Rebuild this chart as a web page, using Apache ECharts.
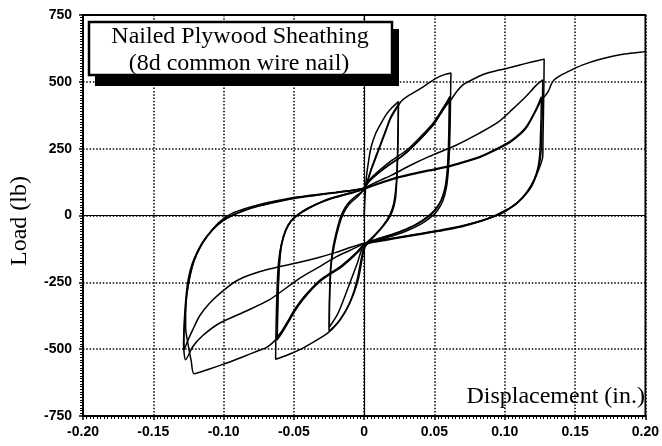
<!DOCTYPE html>
<html>
<head>
<meta charset="utf-8">
<script src="https://cdn.jsdelivr.net/npm/echarts@6/dist/echarts.min.js"></script>
<style>
html, body { margin: 0; padding: 0; background: #fff; }
#main { width: 662px; height: 446px; }
</style>
</head>
<body>
<div id="main"></div>
<script>
// axis ticks
var xTicks = { min: -0.2, max: 0.2, step: 0.05 };
var yTicks = { min: -750, max: 750, step: 250 };

// displacement (in.), load (lb), in test order
// 0.025 in. cycles
var cycle1 = [
  [0,0],[0.0005,60],[0.0015,140],[0.003,200],[0.005,257],[0.008,305],[0.012,345],[0.016,380],[0.020,405],[0.0244,426],
  [0.0242,330],[0.0238,220],[0.0232,130],[0.0222,60],[0.020,15],[0.017,-15],[0.012,-50],[0.006,-85],[0.001,-115],
  [-0.001,-150],[-0.004,-235],[-0.008,-300],[-0.013,-355],[-0.018,-395],[-0.022,-418],[-0.025,-432],
  [-0.0248,-330],[-0.0244,-250],[-0.0238,-190],[-0.022,-115],[-0.019,-45],[-0.016,5],[-0.012,42],[-0.007,68],[-0.002,88],[0,100]
];
var cycle2 = [
  [0,100],[0.002,125],[0.005,175],[0.010,245],[0.015,315],[0.019,370],[0.0243,416],
  [0.0241,320],[0.0236,210],[0.0228,120],[0.021,45],[0.018,0],[0.013,-40],[0.007,-75],[0.002,-100],[0,-110],
  [-0.002,-130],[-0.005,-180],[-0.010,-250],[-0.015,-320],[-0.019,-370],[-0.0248,-418],
  [-0.0246,-320],[-0.0241,-240],[-0.0234,-180],[-0.021,-105],[-0.018,-40],[-0.015,5],[-0.011,40],[-0.006,65],[-0.002,85],[0,96]
];
// 0.06 in. cycles
var cycle3 = [
  [0,96],[0.002,120],[0.005,170],[0.010,240],[0.015,310],[0.019,365],[0.0244,412],[0.0265,428],[0.032,450],[0.0386,470],[0.045,492],[0.051,513],[0.057,527],[0.0617,533],
  [0.0614,430],[0.0611,330],[0.0606,240],[0.0598,165],[0.0585,105],[0.056,55],[0.052,18],[0.047,-8],[0.040,-33],[0.030,-58],[0.020,-77],[0.010,-92],[0.003,-105],[0,-115],
  [-0.002,-160],[-0.005,-240],[-0.009,-310],[-0.014,-365],[-0.020,-410],[-0.026,-440],[-0.035,-470],[-0.045,-500],[-0.055,-523],[-0.063,-538],
  [-0.0628,-450],[-0.0624,-350],[-0.0618,-250],[-0.0608,-170],[-0.059,-108],[-0.056,-55],[-0.052,-20],[-0.047,3],[-0.040,27],[-0.030,52],[-0.020,70],[-0.010,84],[-0.003,95],[0,104]
];
var cycle4 = [
  [0,104],[0.004,135],[0.010,165],[0.018,200],[0.025,225],[0.031,248],[0.037,278],[0.043,310],[0.049,345],[0.054,385],[0.058,418],[0.061,446],
  [0.0607,350],[0.0602,250],[0.0594,170],[0.058,108],[0.055,58],[0.051,22],[0.046,-3],[0.039,-28],[0.030,-52],[0.020,-72],[0.010,-88],[0.003,-100],[0,-108],
  [-0.004,-135],[-0.010,-165],[-0.018,-200],[-0.025,-222],[-0.031,-245],[-0.037,-275],[-0.043,-312],[-0.049,-355],[-0.054,-400],[-0.058,-435],[-0.062,-466],
  [-0.0617,-370],[-0.0612,-270],[-0.0605,-185],[-0.059,-115],[-0.056,-60],[-0.052,-22],[-0.047,2],[-0.040,25],[-0.030,50],[-0.020,68],[-0.010,82],[-0.003,93],[0,102]
];
var cycle5 = [
  [0,102],[0.004,130],[0.010,158],[0.018,190],[0.025,215],[0.031,240],[0.037,270],[0.043,303],[0.049,338],[0.054,378],[0.058,410],[0.0605,432],
  [0.0603,340],[0.0598,240],[0.059,165],[0.0575,105],[0.0545,55],[0.050,20],[0.045,-4],[0.038,-30],[0.030,-50],[0.020,-70],[0.010,-86],[0.003,-98],[0,-106],
  [-0.004,-130],[-0.010,-160],[-0.018,-195],[-0.025,-218],[-0.031,-240],[-0.037,-270],[-0.043,-305],[-0.049,-348],[-0.054,-392],[-0.058,-428],[-0.0618,-455],
  [-0.0615,-360],[-0.061,-262],[-0.0602,-180],[-0.0588,-112],[-0.056,-58],[-0.052,-20],[-0.047,4],[-0.040,27],[-0.030,52],[-0.020,70],[-0.010,84],[-0.003,95],[0,104]
];
// 0.125 in. cycles
var cycle6 = [
  [0,104],[0.004,130],[0.010,158],[0.018,190],[0.025,215],[0.031,240],[0.037,270],[0.043,303],[0.049,338],[0.054,378],[0.058,410],[0.062,435],[0.066,465],[0.070,488],[0.075,503],[0.086,530],[0.095,543],[0.102,551],[0.110,562],[0.119,574],[0.128,585],
  [0.1278,480],[0.1275,380],[0.1272,290],[0.127,220],[0.124,170],[0.119,108],[0.113,68],[0.105,33],[0.095,5],[0.085,-18],[0.072,-38],[0.060,-52],[0.048,-63],[0.035,-75],[0.020,-88],[0.010,-97],[0,-108],
  [-0.004,-133],[-0.010,-162],[-0.018,-197],[-0.025,-220],[-0.031,-242],[-0.037,-272],[-0.043,-308],[-0.049,-350],[-0.054,-395],[-0.058,-430],[-0.062,-458],[-0.066,-480],[-0.070,-495],[-0.075,-505],[-0.087,-530],[-0.100,-556],[-0.110,-574],[-0.121,-592],
  [-0.123,-545],[-0.125,-490],[-0.127,-420],[-0.127,-350],[-0.126,-290],[-0.124,-225],[-0.121,-170],[-0.117,-122],[-0.112,-80],[-0.106,-40],[-0.100,-12],[-0.094,8],[-0.085,25],[-0.075,40],[-0.065,52],[-0.050,67],[-0.035,78],[-0.020,87],[-0.010,94],[0,102]
];
var cycle7 = [
  [0,102],[0.010,128],[0.020,152],[0.033,188],[0.046,220],[0.065,262],[0.082,308],[0.095,348],[0.105,395],[0.115,445],[0.122,485],[0.127,507],
  [0.1268,420],[0.1264,330],[0.126,250],[0.1245,190],[0.121,135],[0.116,88],[0.109,47],[0.100,15],[0.094,0],[0.085,-17],[0.072,-36],[0.060,-50],[0.048,-62],[0.035,-73],[0.020,-86],[0.010,-95],[0,-106],
  [-0.010,-130],[-0.020,-155],[-0.033,-195],[-0.046,-235],[-0.0676,-316],[-0.085,-360],[-0.103,-403],[-0.115,-450],[-0.122,-491],[-0.127,-540],
  [-0.1285,-480],[-0.128,-420],[-0.127,-350],[-0.126,-290],[-0.124,-230],[-0.121,-168],[-0.115,-103],[-0.108,-55],[-0.101,-22],[-0.094,0],[-0.085,20],[-0.075,36],[-0.065,49],[-0.050,65],[-0.035,76],[-0.020,86],[-0.010,93],[0,100]
];
var cycle8 = [
  [0,100],[0.010,120],[0.020,138],[0.033,155],[0.046,170],[0.060,185],[0.070,200],[0.082,220],[0.095,252],[0.105,282],[0.115,330],[0.122,395],[0.126,444],
  [0.1258,370],[0.1254,300],[0.125,240],[0.1238,185],[0.121,135],[0.116,90],[0.109,48],[0.100,15],[0.094,0],[0.085,-17],[0.072,-35],[0.060,-49],[0.048,-60],[0.035,-72],[0.020,-85],[0.010,-94],[0,-104],
  [-0.010,-120],[-0.020,-138],[-0.033,-158],[-0.046,-175],[-0.0676,-200],[-0.080,-220],[-0.091,-245],[-0.100,-280],[-0.110,-328],[-0.117,-375],[-0.122,-428],[-0.126,-475],[-0.128,-502],
  [-0.1282,-440],[-0.1278,-380],[-0.127,-320],[-0.1258,-260],[-0.124,-210],[-0.121,-162],[-0.115,-100],[-0.108,-53],[-0.101,-20],[-0.094,0],[-0.085,19],[-0.075,35],[-0.065,48],[-0.050,64],[-0.035,75],[-0.020,85],[-0.010,92],[0,99]
];
// final push
var finalPush = [
  [0,99],[0.010,118],[0.020,135],[0.033,152],[0.046,167],[0.060,182],[0.070,197],[0.082,217],[0.095,248],[0.105,278],[0.115,325],[0.122,390],[0.126,432],
  [0.129,450],[0.131,465],[0.133,490],[0.135,507],[0.140,525],[0.145,538],[0.152,556],[0.160,572],[0.166,582],[0.175,594],[0.185,604],[0.193,609],[0.200,613]
];

var loops = [cycle1, cycle2, cycle3, cycle4, cycle5, cycle6, cycle7, cycle8, finalPush];

var chart = echarts.init(document.getElementById('main'));

var dotted = { color: '#000', width: 1.5, type: [1.5, 1.8] };
var tickFont = { color: '#000', fontFamily: 'Liberation Sans', fontWeight: 'bold', fontSize: 14 };

var series = loops.map(function (d, i) {
  var s = {
    type: 'line',
    data: d,
    showSymbol: false,
    smooth: 0.25,
    lineStyle: { color: '#000', width: 1.5 },
    animation: false,
    silent: true
  };
  if (i === 0) {
    s.markLine = {
      silent: true,
      symbol: ['none', 'none'],
      label: { show: false },
      lineStyle: { color: '#000', width: 1.2, type: 'solid' },
      data: [{ xAxis: 0 }, { yAxis: 0 }],
      animation: false
    };
  }
  return s;
});

chart.setOption({
  animation: false,
  grid: { left: 83, right: 14, top: 15, bottom: 30, show: true, borderColor: '#000', borderWidth: 1.8 },
  xAxis: {
    type: 'value',
    min: xTicks.min, max: xTicks.max, interval: xTicks.step,
    axisLine: { onZero: false, lineStyle: { color: '#000', width: 2 } },
    axisTick: { length: 4, lineStyle: { color: '#000', width: 1.5 } },
    minorTick: { show: true, splitNumber: 20, length: 3, lineStyle: { color: '#000', width: 1 } },
    splitLine: { show: true, lineStyle: dotted },
    axisLabel: Object.assign({ margin: 9, formatter: function (v) { return Math.abs(v) < 1e-9 ? '0' : v.toFixed(2); } }, tickFont)
  },
  yAxis: {
    type: 'value',
    min: yTicks.min, max: yTicks.max, interval: yTicks.step,
    axisLine: { onZero: false, lineStyle: { color: '#000', width: 2 } },
    axisTick: { length: 4, lineStyle: { color: '#000', width: 1.5 } },
    minorTick: { show: true, splitNumber: 25, length: 3, lineStyle: { color: '#000', width: 1 } },
    splitLine: { show: true, lineStyle: dotted },
    axisLabel: Object.assign({ margin: 11 }, tickFont)
  },
  graphic: [
    { type: 'text', x: 20, y: 221, rotation: Math.PI / 2, z: 100,
      style: { text: 'Load (lb)', fill: '#000', font: '24px "Liberation Serif", serif', textAlign: 'center', textVerticalAlign: 'middle' } },
    { type: 'text', x: 645, y: 397, z: 100,
      style: { text: 'Displacement (in.)', fill: '#000', font: '24px "Liberation Serif", serif', textAlign: 'right', textVerticalAlign: 'middle' } },
    { type: 'rect', z: 100, shape: { x: 95, y: 29, width: 304, height: 57 }, style: { fill: '#000' } },
    { type: 'rect', z: 101, shape: { x: 89, y: 22, width: 303, height: 53 }, style: { fill: '#fff' } },
    { type: 'text', x: 240, y: 37, z: 102,
      style: { text: 'Nailed Plywood Sheathing', fill: '#000', font: '24px "Liberation Serif", serif', textAlign: 'center', textVerticalAlign: 'middle' } },
    { type: 'text', x: 239, y: 64, z: 102,
      style: { text: '(8d common wire nail)', fill: '#000', font: '24px "Liberation Serif", serif', textAlign: 'center', textVerticalAlign: 'middle' } },
    { type: 'rect', z: 103, shape: { x: 89, y: 22, width: 303, height: 53 }, style: { fill: 'none', stroke: '#000', lineWidth: 2.5 } }
  ],
  series: series
});
</script>
</body>
</html>
